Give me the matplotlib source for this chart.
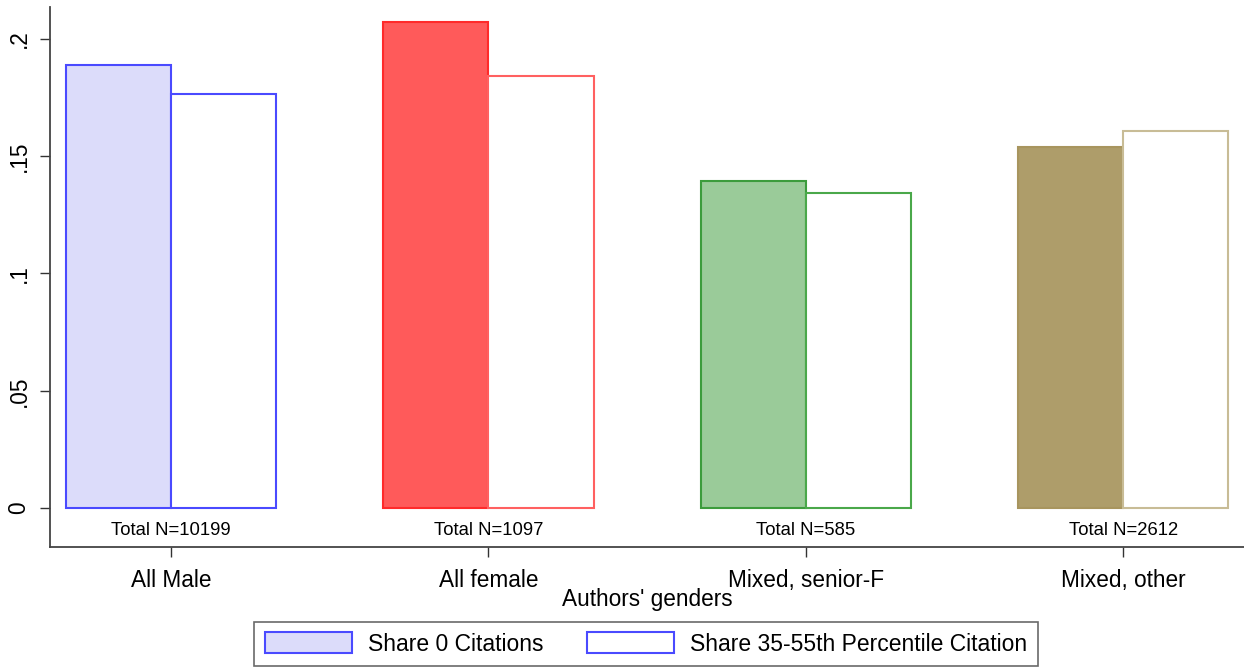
import matplotlib
matplotlib.use("Agg")
import matplotlib.pyplot as plt
from matplotlib.patches import Patch
import numpy as np

categories = ["All Male", "All female", "Mixed, senior-F", "Mixed, other"]
share_zero = [0.189, 0.2072, 0.1394, 0.1540]
share_mid = [0.1765, 0.1842, 0.1343, 0.1608]
total_n = [10199, 1097, 585, 2612]
yticks = [0, 0.05, 0.1, 0.15, 0.2]
yticklabels = ["0", ".05", ".1", ".15", ".2"]
series_labels = ["Share 0 Citations", "Share 35-55th Percentile Citation"]

fill_colors = ["#dcdcfa", "#ff5a5a", "#9acb99", "#ae9d6a"]
edge1 = ["#4a4aff", "#ff2a2a", "#3c9c3c", "#a8955e"]
edge2 = ["#4a4aff", "#ff6060", "#4aa84a", "#c8bc96"]

plt.rcParams['font.family'] = ['Liberation Sans', 'DejaVu Sans']

fig = plt.figure(figsize=(12.44, 6.67), dpi=100)
ax = fig.add_axes([50/1244, (667-547)/667, (1244-50)/1244, (547-7)/667])

x = np.arange(len(categories))
w = 0.331
for i in range(len(categories)):
    ax.bar(x[i] - w/2, share_zero[i], w, color=fill_colors[i], edgecolor=edge1[i], linewidth=1.5)
    ax.bar(x[i] + w/2, share_mid[i], w, color="white", edgecolor=edge2[i], linewidth=1.5)
    ax.text(x[i], -0.0097, f"Total N={total_n[i]}", ha="center", va="center",
            fontsize=13.3, color="black")

ax.set_xlim(-0.381, 3.38)
ax.set_ylim(-0.0166, 0.2136)
ax.set_yticks(yticks)
ax.set_yticklabels(yticklabels, rotation=90, va="center", fontsize=16.3)
ax.set_xticks(x)
ax.set_xticklabels(categories, fontsize=16.3)
ax.tick_params(axis='both', length=7, width=1, color="#333333")
ax.tick_params(axis='y', pad=7)
ax.tick_params(axis='x', pad=9)
ax.set_xlabel("Authors' genders", fontsize=16.3, labelpad=-3)
for s in ["top", "right"]:
    ax.spines[s].set_visible(False)
for s in ["left", "bottom"]:
    ax.spines[s].set_color("#444444")
    ax.spines[s].set_linewidth(1.3)

handles = [Patch(facecolor="#dcdcfa", edgecolor="#4a4aff", linewidth=1.5),
           Patch(facecolor="white", edgecolor="#4a4aff", linewidth=1.5)]
leg = fig.legend(handles, series_labels, loc="center", bbox_to_anchor=(646/1244, (667-644)/667),
                 ncol=2, fontsize=16.5, frameon=True, fancybox=False, handlelength=3.8,
                 handleheight=1.0, columnspacing=1.9, borderpad=0.45, handletextpad=0.7)
leg.get_frame().set_edgecolor("#444444")
leg.get_frame().set_linewidth(1.2)

fig.savefig("out.png", dpi=100)
